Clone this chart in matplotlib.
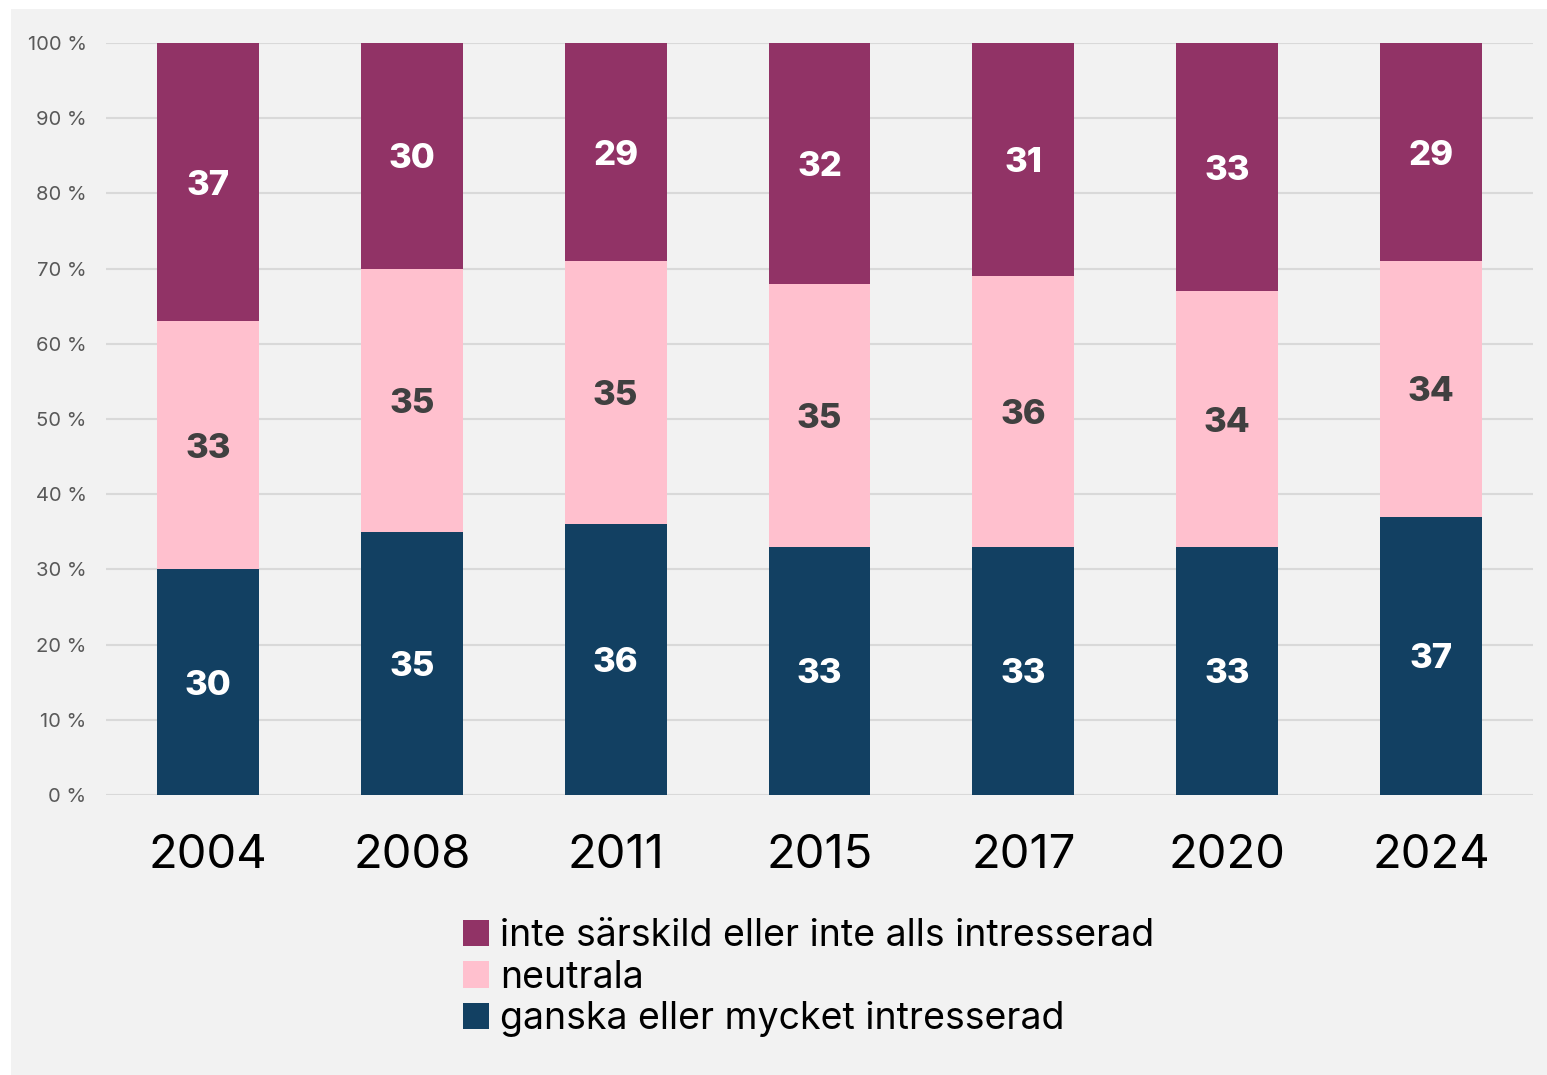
import matplotlib
matplotlib.use("Agg")
import matplotlib.pyplot as plt
from matplotlib.patches import Rectangle, Patch

years = ["2004", "2008", "2011", "2015", "2017", "2020", "2024"]
ganska = [30, 35, 36, 33, 33, 33, 37]
neutrala = [33, 35, 35, 35, 36, 34, 34]
inte = [37, 30, 29, 32, 31, 33, 29]
series_names = ["ganska eller mycket intresserad", "neutrala",
                "inte särskild eller inte alls intresserad"]
yticks = [0, 10, 20, 30, 40, 50, 60, 70, 80, 90, 100]
ytick_labels = [f"{v} %" for v in yticks]

colors = ["#124062", "#FFC0CE", "#913366"]
label_colors = ["white", "#404040", "white"]
BG = "#F2F2F2"

plt.rcParams['font.family'] = ['Inter', 'DejaVu Sans']

W, H = 1547, 1075
fig = plt.figure(figsize=(W / 100, H / 100), dpi=100)
fig.patch.set_facecolor("white")
fig.add_artist(Rectangle((11 / W, 0), (W - 11) / W, (H - 9) / H,
                         transform=fig.transFigure, facecolor=BG,
                         edgecolor="none", zorder=0))

ax = fig.add_axes([106 / W, 1 - 795 / H, (1533 - 106) / W, (795 - 43) / H])
ax.set_facecolor(BG)
ax.patch.set_alpha(0)

x = list(range(len(years)))
bottoms = [0] * len(years)
handles = []
for vals, col, lc, name in zip([ganska, neutrala, inte], colors, label_colors, series_names):
    ax.bar(x, vals, width=0.5, bottom=bottoms, color=col, zorder=3, label=name)
    for xi, v, b in zip(x, vals, bottoms):
        ax.text(xi, b + v / 2, str(v), ha="center", va="center_baseline", color=lc,
                fontsize=25, fontweight="heavy", zorder=4)
    bottoms = [b + v for b, v in zip(bottoms, vals)]
    handles.append(Patch(facecolor=col, label=name))

ax.set_xlim(-0.5, len(years) - 0.5)
ax.set_ylim(0, 100)
ax.set_yticks(yticks)
ax.set_yticklabels(ytick_labels, fontsize=14.5, color="#595959")
ax.set_xticks(x)
ax.set_xticklabels(years, fontsize=34, color="black")
ax.tick_params(axis="y", length=0, pad=14)
ax.tick_params(axis="x", length=0, pad=28)
ax.grid(axis="y", color="#D9D9D9", linewidth=1.5, zorder=0)
for s in ax.spines.values():
    s.set_visible(False)

leg = fig.legend(handles=handles[::-1], loc="upper left",
                 bbox_to_anchor=(463 / W, 1 - 918 / H), frameon=False,
                 fontsize=27, handlelength=0.7, handleheight=0.7,
                 handletextpad=0.3, labelspacing=0.15, borderpad=0,
                 borderaxespad=0)

fig.savefig("out.png", dpi=100, facecolor="white")
